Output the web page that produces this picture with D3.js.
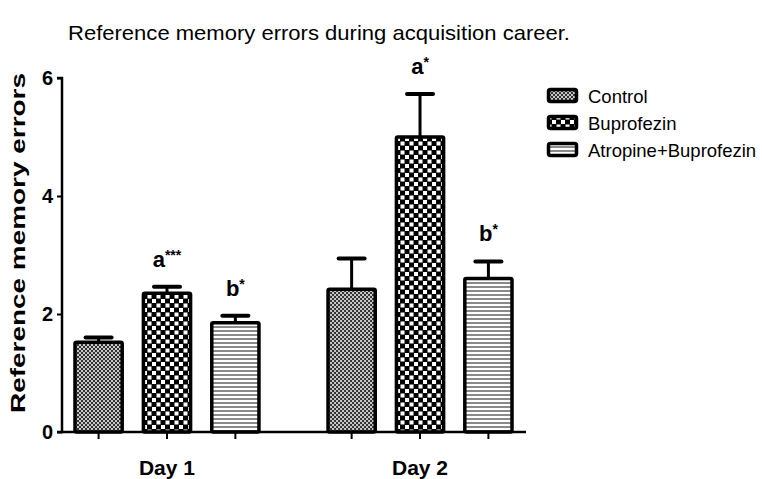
<!DOCTYPE html>
<html>
<head>
<meta charset="utf-8">
<script src="https://cdn.jsdelivr.net/npm/d3@7"></script>
<style>
  body { margin: 0; background: #fff; }
  text { font-family: "Liberation Sans", Arial, sans-serif; }
</style>
</head>
<body>
<script>
// data
const days = ["Day 1", "Day 2"];
const groups = ["Control", "Buprofezin", "Atropine+Buprofezin"];
const means = [[1.52, 2.35, 1.85], [2.42, 5.0, 2.6]];
const errs = [[0.08, 0.11, 0.12], [0.52, 0.73, 0.29]];
const sigLabels = [["", "a***", "b*"], ["", "a*", "b*"]];
const yTicks = [0, 2, 4, 6];

const canvWidth = 762, canvHeight = 479;
const svg = d3.select("body").append("svg")
    .attr("width", canvWidth)
    .attr("height", canvHeight);

// fill patterns
const defs = svg.append("defs");
let p = defs.append("pattern").attr("id", "pat0").attr("patternUnits", "userSpaceOnUse")
    .attr("width", 4).attr("height", 4);
p.append("rect").attr("width", 4).attr("height", 4).attr("fill", "#c8c8c8");
p.append("rect").attr("width", 2).attr("height", 2).attr("fill", "#333");
p.append("rect").attr("x", 2).attr("y", 2).attr("width", 2).attr("height", 2).attr("fill", "#333");

p = defs.append("pattern").attr("id", "pat1").attr("patternUnits", "userSpaceOnUse")
    .attr("width", 9).attr("height", 9);
p.append("rect").attr("width", 9).attr("height", 9).attr("fill", "#000");
p.append("rect").attr("x", 0.5).attr("y", 0.5).attr("width", 4).attr("height", 4).attr("fill", "#fff");
p.append("rect").attr("x", 5).attr("y", 5).attr("width", 4).attr("height", 4).attr("fill", "#fff");

p = defs.append("pattern").attr("id", "pat2").attr("patternUnits", "userSpaceOnUse")
    .attr("width", 4).attr("height", 4);
p.append("rect").attr("width", 4).attr("height", 4).attr("fill", "#fff");
p.append("rect").attr("width", 4).attr("height", 2).attr("fill", "#8a8a8a");

const margin = {left: 62, top: 78, right: 236, bottom: 47};
const width = canvWidth - margin.left - margin.right;
const height = 432 - margin.top;

const g = svg.append("g")
    .attr("transform", "translate(" + margin.left + "," + margin.top + ")");

const yScale = d3.scaleLinear().domain([0, 6]).range([height, 0]);
const x0 = d3.scaleBand().domain(days).range([13, 450]).paddingInner(0.273).paddingOuter(0);
const x1 = d3.scaleBand().domain(groups).range([0, x0.bandwidth()]).paddingInner(0.31);

// title
svg.append("text")
    .attr("x", 68).attr("y", 40)
    .attr("font-size", "21px")
    .attr("textLength", 502).attr("lengthAdjust", "spacingAndGlyphs")
    .text("Reference memory errors during acquisition career.");

// bars
days.forEach(function(day, di) {
  const dg = g.append("g").attr("transform", "translate(" + x0(day) + ",0)");
  groups.forEach(function(grp, gi) {
    const bx = x1(grp), bw = x1.bandwidth();
    const v = means[di][gi], e = errs[di][gi];
    const cx = bx + bw / 2;
    dg.append("line")
        .attr("x1", cx).attr("x2", cx)
        .attr("y1", yScale(v)).attr("y2", yScale(v + e))
        .attr("stroke", "#000").attr("stroke-width", 3);
    dg.append("line")
        .attr("x1", cx - 13).attr("x2", cx + 13)
        .attr("y1", yScale(v + e)).attr("y2", yScale(v + e))
        .attr("stroke", "#000").attr("stroke-width", 4).attr("stroke-linecap", "round");
    dg.append("rect")
        .attr("x", bx).attr("y", yScale(v))
        .attr("width", bw).attr("height", height - yScale(v))
        .attr("rx", 1.5)
        .attr("fill", "url(#pat" + gi + ")")
        .attr("stroke", "#000").attr("stroke-width", 3.5);
    if (sigLabels[di][gi]) {
      const lab = sigLabels[di][gi];
      const t = dg.append("text")
          .attr("x", cx).attr("y", yScale(v + e) - 20)
          .attr("text-anchor", "middle")
          .attr("font-size", "22px").attr("font-weight", "bold");
      t.append("tspan").text(lab[0]);
      t.append("tspan").attr("font-size", "14px").attr("dy", "-7").text(lab.slice(1));
    }
  });
});

// axes
const yAxis = d3.axisLeft(yScale).tickValues(yTicks).tickFormat(d3.format("d")).tickSize(5).tickPadding(4);
const ya = g.append("g").call(yAxis);
ya.select(".domain").attr("stroke-width", 2.5).attr("d", "M-5,0H0V" + height + "H-5");
ya.selectAll(".tick line").attr("stroke-width", 2);
ya.selectAll(".tick text").attr("font-size", "20px").attr("font-weight", "bold")
    .attr("font-family", "Liberation Sans, Arial, sans-serif").attr("fill", "#000");

const xa = g.append("g").attr("transform", "translate(0," + height + ")");
xa.append("line").attr("x1", 0).attr("x2", width).attr("y1", 0).attr("y2", 0)
    .attr("stroke", "#000").attr("stroke-width", 2.5);
days.forEach(function(day) {
  groups.forEach(function(grp) {
    const cx = x0(day) + x1(grp) + x1.bandwidth() / 2;
    xa.append("line").attr("x1", cx).attr("x2", cx).attr("y1", 0).attr("y2", 7)
        .attr("stroke", "#000").attr("stroke-width", 2);
  });
  xa.append("text")
      .attr("x", x0(day) + x0.bandwidth() / 2).attr("y", 43)
      .attr("text-anchor", "middle")
      .attr("font-size", "21px").attr("font-weight", "bold")
      .text(day);
});

// y label
svg.append("text")
    .attr("transform", "translate(25,243) rotate(-90)")
    .attr("text-anchor", "middle")
    .attr("font-size", "21px").attr("font-weight", "bold")
    .attr("textLength", 340).attr("lengthAdjust", "spacingAndGlyphs")
    .text("Reference memory errors");

// legend
const legend = svg.append("g").attr("transform", "translate(547,88)");
groups.forEach(function(grp, i) {
  const row = legend.append("g").attr("transform", "translate(0," + (i * 27) + ")");
  row.append("rect").attr("x", 1.5).attr("y", 1.5).attr("width", 28).attr("height", 12).attr("rx", 2)
      .attr("fill", "url(#pat" + i + ")").attr("stroke", "#000").attr("stroke-width", 3.5);
  row.append("text").attr("x", 41).attr("y", 15).attr("font-size", "18.5px").text(grp);
});
</script>
</body>
</html>
